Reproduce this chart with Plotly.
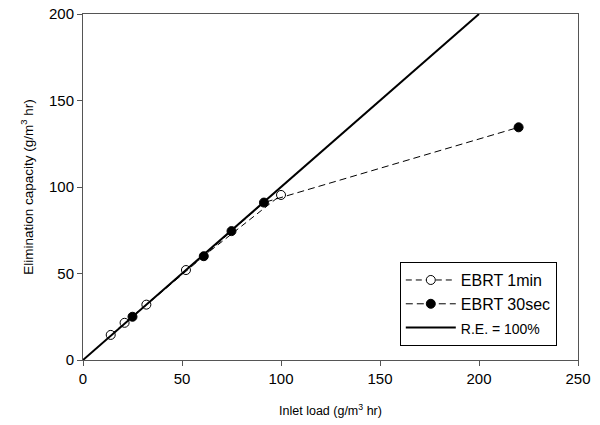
import plotly.graph_objects as go

# Inlet load vs elimination capacity (g/m3 hr)
load_1min = [14, 21, 32, 52, 100]
ec_1min = [14.5, 21.5, 32, 52, 95.4]

load_30sec = [25, 61, 75, 91.4, 220]
ec_30sec = [25, 60, 74.5, 91, 134.5]

re_x = [0, 200]
re_y = [0, 200]

fig = go.Figure()

fig.add_trace(go.Scatter(
    x=load_1min, y=ec_1min, name="EBRT 1min", mode="lines+markers",
    line=dict(color="black", width=1, dash="6px,4px"),
    marker=dict(symbol="circle", size=9, color="white",
                line=dict(color="black", width=1)),
))
fig.add_trace(go.Scatter(
    x=load_30sec, y=ec_30sec, name="EBRT 30sec", mode="lines+markers",
    line=dict(color="black", width=1, dash="7px,4px"),
    marker=dict(symbol="circle", size=9, color="black",
                line=dict(color="black", width=1)),
))
fig.add_trace(go.Scatter(
    x=re_x, y=re_y, name='<span style="font-size:14px">R.E. = 100%</span>',
    mode="lines", line=dict(color="black", width=2),
))

axis_common = dict(
    showgrid=False, zeroline=False, showline=True, linecolor="#555",
    linewidth=1, mirror=True, ticks="outside", ticklen=5, tickcolor="#555",
    automargin=False,
    tickfont=dict(family="Liberation Sans, Arial", size=15, color="black"),
)

fig.update_layout(
    width=600, height=425,
    margin=dict(l=83, r=22, t=14, b=65),
    paper_bgcolor="white", plot_bgcolor="white",
    font=dict(family="Liberation Sans, Arial", color="black"),
    xaxis=dict(range=[0, 250], tickvals=[0, 50, 100, 150, 200, 250],
               title=dict(text="Inlet load (g/m<sup>3</sup> hr)",
                          font=dict(size=12.5), standoff=20),
               **axis_common),
    yaxis=dict(range=[0, 200], tickvals=[0, 50, 100, 150, 200],
               title=dict(text="Elimination capacity (g/m<sup>3</sup> hr)",
                          font=dict(size=13.5), standoff=12),
               **axis_common),
    legend=dict(x=0.64, y=0.283, xanchor="left", yanchor="top",
                bgcolor="white", bordercolor="black", borderwidth=1,
                font=dict(size=16), tracegroupgap=0, itemwidth=50),
    showlegend=True,
)

fig.write_html("out.html")
